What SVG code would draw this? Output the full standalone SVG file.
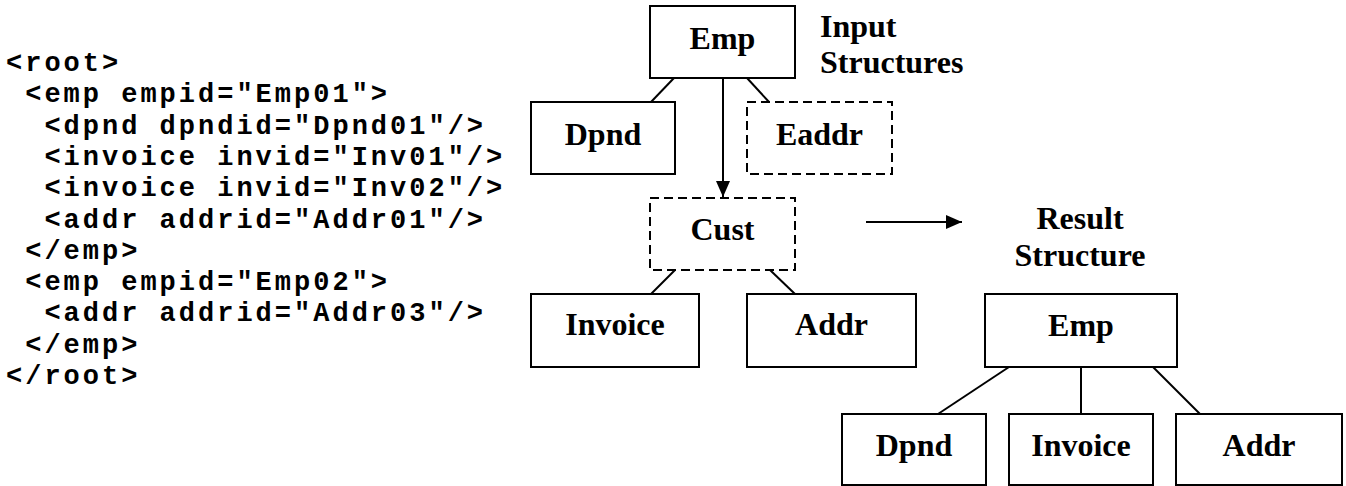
<svg xmlns="http://www.w3.org/2000/svg" width="1346" height="486" viewBox="0 0 1346 486">
<style>
.bg{fill:#fff}
.box{fill:#fff;stroke:#000;stroke-width:2}
.dash{fill:#fff;stroke:#000;stroke-width:2;stroke-dasharray:9 5}
.lbl{font-family:"Liberation Serif","Times New Roman",serif;font-weight:bold;font-size:32px;fill:#000;text-anchor:middle}
.cap{font-family:"Liberation Serif","Times New Roman",serif;font-weight:bold;font-size:32px;fill:#000}
.code{font-family:"Liberation Mono","Courier New",monospace;font-weight:bold;font-size:27px;letter-spacing:3px;fill:#000}
.ln{stroke:#000;stroke-width:2;fill:none}
</style>
<defs>
<marker id="ah" markerUnits="userSpaceOnUse" markerWidth="16" markerHeight="14" refX="16" refY="7" orient="auto">
<path d="M0,0 L16,7 L0,14 Z" fill="#000"/>
</marker>
</defs>
<rect class="bg" x="0" y="0" width="1346" height="486"/>
<g id="code">
<text class="code" x="6" y="71">&lt;root&gt;</text>
<text class="code" x="25.2" y="102.3">&lt;emp empid="Emp01"&gt;</text>
<text class="code" x="44.4" y="133.6">&lt;dpnd dpndid="Dpnd01"/&gt;</text>
<text class="code" x="44.4" y="164.9">&lt;invoice invid="Inv01"/&gt;</text>
<text class="code" x="44.4" y="196.2">&lt;invoice invid="Inv02"/&gt;</text>
<text class="code" x="44.4" y="227.5">&lt;addr addrid="Addr01"/&gt;</text>
<text class="code" x="25.2" y="258.8">&lt;/emp&gt;</text>
<text class="code" x="25.2" y="290.1">&lt;emp empid="Emp02"&gt;</text>
<text class="code" x="44.4" y="321.4">&lt;addr addrid="Addr03"/&gt;</text>
<text class="code" x="25.2" y="352.7">&lt;/emp&gt;</text>
<text class="code" x="6" y="384">&lt;/root&gt;</text>
</g>
<g id="connectors">
<line class="ln" x1="674" y1="78" x2="651" y2="102"/>
<line class="ln" x1="747" y1="78" x2="769" y2="102"/>
<line class="ln" x1="723" y1="78" x2="723" y2="197" marker-end="url(#ah)"/>
<line class="ln" x1="675" y1="270" x2="651" y2="294"/>
<line class="ln" x1="770" y1="270" x2="795" y2="294"/>
<line class="ln" x1="866" y1="222" x2="962" y2="222" marker-end="url(#ah)"/>
<line class="ln" x1="1009" y1="367" x2="938" y2="414"/>
<line class="ln" x1="1081" y1="367" x2="1081" y2="414"/>
<line class="ln" x1="1153" y1="367" x2="1200" y2="414"/>
</g>
<g id="in-emp"><rect class="box" x="650" y="6" width="145" height="72"/><text class="lbl" x="722.5" y="49">Emp</text></g>
<g id="in-dpnd"><rect class="box" x="531" y="102" width="144" height="72"/><text class="lbl" x="603" y="145">Dpnd</text></g>
<g id="in-eaddr"><rect class="dash" x="747" y="102" width="145" height="72"/><text class="lbl" x="819.5" y="145">Eaddr</text></g>
<g id="in-cust"><rect class="dash" x="650" y="198" width="145" height="72"/><text class="lbl" x="722.5" y="240">Cust</text></g>
<g id="in-invoice"><rect class="box" x="531" y="294" width="168" height="73"/><text class="lbl" x="615" y="335">Invoice</text></g>
<g id="in-addr"><rect class="box" x="747" y="294" width="169" height="73"/><text class="lbl" x="831.5" y="335">Addr</text></g>
<g id="input-label"><text class="cap" x="820" y="37">Input</text><text class="cap" x="820" y="73">Structures</text></g>
<g id="result-label"><text class="cap" x="1080" y="229" text-anchor="middle">Result</text><text class="cap" x="1080" y="266" text-anchor="middle">Structure</text></g>
<g id="out-emp"><rect class="box" x="985" y="294" width="192" height="73"/><text class="lbl" x="1081" y="336">Emp</text></g>
<g id="out-dpnd"><rect class="box" x="842" y="414" width="144" height="71"/><text class="lbl" x="914" y="456">Dpnd</text></g>
<g id="out-invoice"><rect class="box" x="1009" y="414" width="144" height="71"/><text class="lbl" x="1081" y="456">Invoice</text></g>
<g id="out-addr"><rect class="box" x="1176" y="414" width="166" height="71"/><text class="lbl" x="1259" y="456">Addr</text></g>
</svg>
